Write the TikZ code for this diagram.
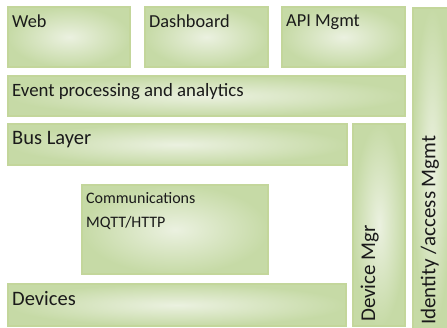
\documentclass[tikz,border=0pt]{standalone}
\usepackage{fontspec}
\setmainfont{Carlito}
\definecolor{lyEdge}{HTML}{C3D69B}
\definecolor{lyDark}{HTML}{C6DAA6}
\definecolor{lyLight}{HTML}{EBF1E0}
\definecolor{lyText}{HTML}{1A1A1A}
\usepackage{tikz}
\usetikzlibrary{positioning}

\tikzset{
  layerbox/.style={draw=lyEdge, line width=1.5pt, shading=radial,
    inner color=lyLight, outer color=lyDark, anchor=north west,
    inner sep=0pt, outer sep=0pt},
  boxtext/.style={text=lyText, anchor=north west,
    inner xsep=4pt, inner ysep=7.5pt},
  pt/.style={font=\fontsize{#1}{#1}\selectfont}
}

\begin{document}
\begin{tikzpicture}[x=1pt,y=-1pt]
  \useasboundingbox (0,0) rectangle (447,327);

  % top row
  \node[layerbox, minimum width=122pt, minimum height=60pt] (web) at (8,7) {};
  \node[boxtext, pt=18.3] at (web.north west) {Web};
  \node[layerbox, minimum width=123pt, minimum height=60pt] (dash) at (145,7) {};
  \node[boxtext, pt=18.3] at (dash.north west) {Dashboard};
  \node[layerbox, minimum width=123pt, minimum height=60pt] (api) at (282,7) {};
  \node[boxtext, pt=18.3] at (api.north west) {API Mgmt};

  % Event processing
  \node[layerbox, minimum width=397pt, minimum height=40pt] (event) at (8,76) {};
  \node[boxtext, pt=18.8] at (event.north west) {Event processing and analytics};

  % Bus
  \node[layerbox, minimum width=339pt, minimum height=41pt] (bus) at (8,124) {};
  \node[boxtext, pt=20.5] at (bus.north west) {Bus Layer};

  % Communications
  \node[layerbox, minimum width=186pt, minimum height=89pt] (comm) at (82,185) {};
  \node[boxtext, pt=16, align=left] at (comm.north west) {Communications\\[8pt]MQTT/HTTP};

  % Devices
  \node[layerbox, minimum width=338pt, minimum height=42pt] (devices) at (8,284) {};
  \node[boxtext, pt=20.5] at (devices.north west) {Devices};

  % side columns
  \node[layerbox, minimum width=52pt, minimum height=202pt] (devmgr) at (353,124) {};
  \node[boxtext, pt=21, rotate=90] at (devmgr.south west) {Device Mgr};
  \node[layerbox, minimum width=38pt, minimum height=321pt] (ident) at (413,8) {};
  \node[boxtext, pt=21, rotate=90] at (ident.south west) {Identity /access Mgmt};
\end{tikzpicture}
\end{document}
